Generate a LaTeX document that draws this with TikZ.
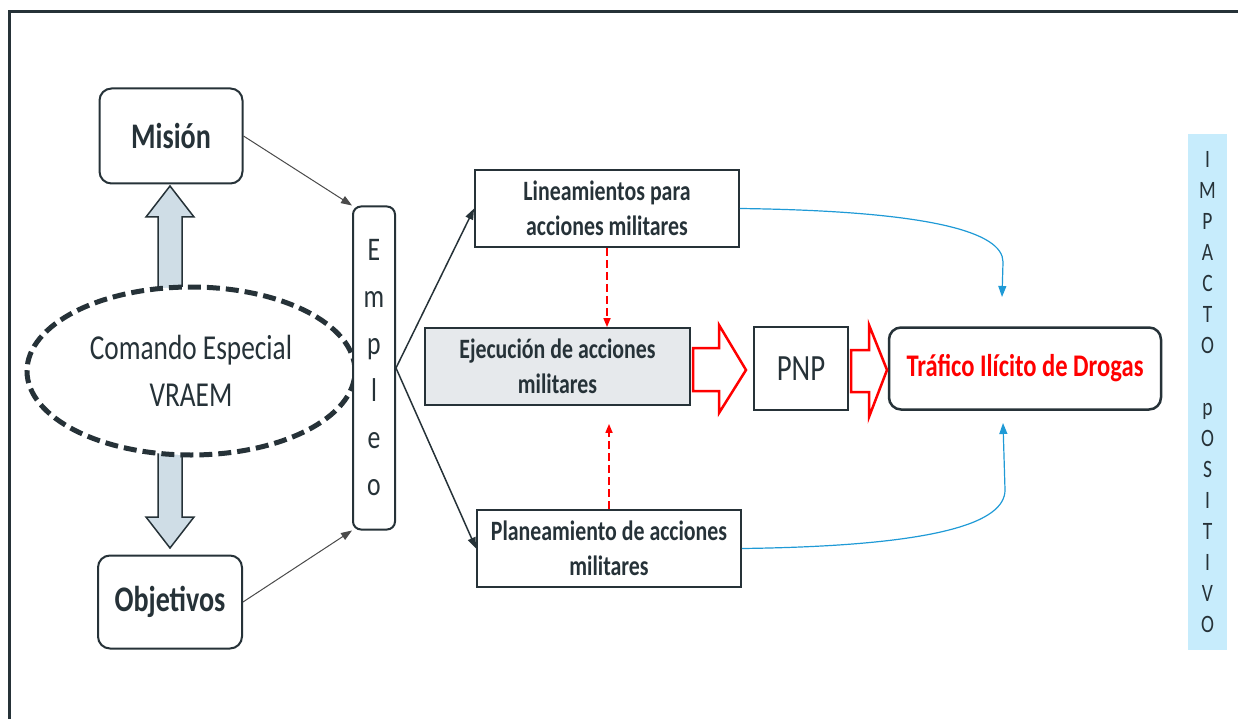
\documentclass[tikz,border=0pt]{standalone}
\usepackage{fontspec}
\setmainfont{Carlito}[FakeStretch=0.78]
\usetikzlibrary{shapes.geometric,arrows.meta}
\definecolor{oscuro}{HTML}{263238}
\definecolor{grisflecha}{HTML}{4A4A4A}
\definecolor{azulgris}{HTML}{CFDDE6}
\definecolor{ejecgris}{HTML}{E6E9EC}
\definecolor{azulcurva}{HTML}{1F9AD6}
\definecolor{celeste}{HTML}{C7ECFC}
\definecolor{rojo}{HTML}{FF0000}
\tikzset{
  redonda/.style={draw=oscuro, line width=2, rounded corners=12, fill=white, text=oscuro,
    align=center, font=\bfseries\fontsize{36}{42}\selectfont},
  caja/.style={draw=oscuro, line width=1.8, fill=white, text=oscuro, align=center,
    minimum width=264, minimum height=77, font=\bfseries\fontsize{28}{35}\selectfont},
  flechagris/.style={draw=grisflecha, line width=1, -{Triangle[width=8,length=11]}},
  flecha/.style={draw=oscuro, line width=1.5, -{Triangle[width=8,length=11]}},
  trazorojo/.style={draw=rojo, line width=1.6, dash pattern=on 8 off 4, -{Triangle[width=7,length=9]}},
  curvaazul/.style={draw=azulcurva, line width=1.2, -{Triangle[width=8,length=11]}},
  bloquegris/.style={draw=oscuro, line width=1.5, fill=azulgris},
  bloquerojo/.style={draw=rojo, line width=2.5, fill=white}
}
\begin{document}
\begin{tikzpicture}[x=1pt, y=-1pt]
  \useasboundingbox (0,0) rectangle (1238,719);
  %%%%% marco %%%%%
  \draw[oscuro, line width=3] (9,719) -- (9,12) -- (1238,12);

  %%%%% flechas anchas %%%%%
  \draw[bloquegris] (158,292) -- (158,217) -- (146,217) -- (170,186) -- (194,217) -- (182,217) -- (182,292) -- cycle;
  \draw[bloquegris] (158,450) -- (158,517) -- (146,517) -- (170,548) -- (194,517) -- (182,517) -- (182,450) -- cycle;

  %%%%% nodos %%%%%
  \node[redonda, minimum width=143, minimum height=95] (mision) at (171,136) {Misión};
  \node[redonda, minimum width=144, minimum height=93] (objetivos) at (170,602) {Objetivos};
  \node[ellipse, draw=oscuro, line width=5, dash pattern=on 13 off 6, fill=white, text=oscuro,
    minimum width=328, minimum height=168, align=center, font=\fontsize{35}{47}\selectfont]
    (comando) at (191,371) {Comando Especial\\VRAEM};
  \node[draw=oscuro, line width=2, rounded corners=8, fill=white, text=oscuro, align=center,
    minimum width=42, minimum height=323, inner sep=0, font=\fontsize{33}{47}\selectfont]
    (empleo) at (374,368) {E\\m\\p\\l\\e\\o};

  \node[caja] (lineam) at (607,208.5) {Lineamientos para\\acciones militares};
  \node[caja, fill=ejecgris, minimum width=265] (ejec) at (557.5,366.5) {Ejecución de acciones\\militares};
  \node[caja] (planeam) at (609,548.5) {Planeamiento de acciones\\militares};
  \node[draw=oscuro, line width=1.8, text=oscuro, minimum width=94, minimum height=83,
    font=\fontsize{37}{40}\selectfont] (pnp) at (801,368.5) {PNP};
  \node[draw=oscuro, line width=2.5, rounded corners=12, text=rojo, minimum width=272, minimum height=82,
    font=\bfseries\fontsize{31.5}{36}\selectfont] (trafico) at (1025,368.5) {Tráfico Ilícito de Drogas};
  \node[fill=celeste, text=oscuro, minimum width=39, minimum height=516, inner sep=0, align=center,
    font=\fontsize{25}{31}\selectfont] (impacto) at (1207.5,392)
    {I\\M\\P\\A\\C\\T\\O\\~\\p\\O\\S\\I\\T\\I\\V\\O};

  \coordinate (llegada1) at (1002,297);
  \coordinate (llegada2) at (1003,423);

  %%%%% conectores %%%%%
  \draw[flechagris] (mision.east) -- (empleo.north west);
  \draw[flechagris] (objetivos.east) -- (empleo.south west);
  \draw[flecha] (empleo.east) -- (lineam.west);
  \draw[flecha] (empleo.east) -- (planeam.west);

  \draw[trazorojo] (lineam.south) -- (lineam.south |- ejec.north);
  \draw[trazorojo, shorten >=18] (planeam.north) -- (planeam.north |- ejec.south);

  \draw[curvaazul] (lineam.east) .. controls (930,211) and (1003,232) .. (1003,262) -- (llegada1);
  \draw[curvaazul] (planeam.east) .. controls (940,546) and (1005,522) .. (1005,490) -- (llegada2);

  \draw[bloquerojo] (693,348) -- (719,348) -- (719,325) -- (746,370) -- (719,413) -- (719,391) -- (693,391) -- cycle;
  \draw[bloquerojo] (851,350) -- (869,350) -- (869,325) -- (887,370) -- (869,417) -- (869,392) -- (851,392) -- cycle;
\end{tikzpicture}
\end{document}
